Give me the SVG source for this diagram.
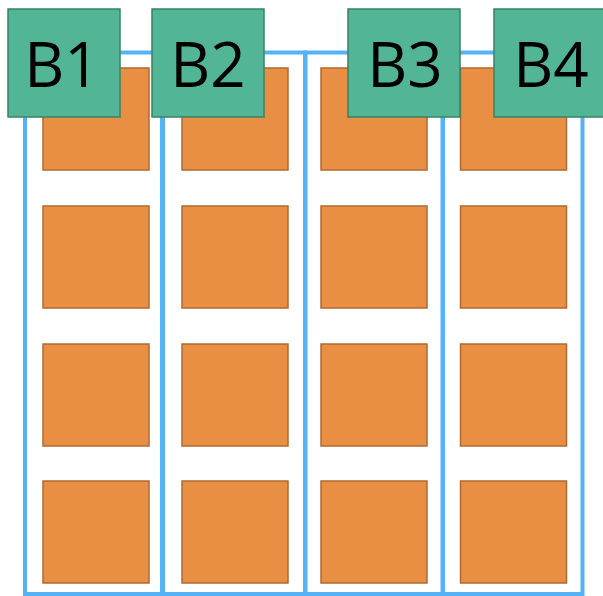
<svg xmlns="http://www.w3.org/2000/svg" width="603" height="596" viewBox="0 0 603 596">
<style>
.col{fill:#ffffff;stroke:#56b2f7;stroke-width:4}
.coli{fill:none;stroke:#cfe7fc;stroke-width:1}
.cell{fill:#e88f43;stroke:#b06a30;stroke-width:1.5}
.blk{fill:#52b696;stroke:#3a8066;stroke-width:1.5}
.lbl{font-family:"Open Sans","Noto Sans",sans-serif;font-size:62px;fill:#000000;text-anchor:middle}
</style>
<g id="columns">
<rect class="col" x="25" y="52.5" width="137" height="541.5"/>
<rect class="col" x="163" y="52.5" width="142" height="541.5"/>
<rect class="col" x="305.5" y="52.5" width="137" height="541.5"/>
<rect class="col" x="443" y="52.5" width="139.5" height="541.5"/>
</g>
<g id="cells">
<rect class="cell" x="43" y="68" width="106" height="102"/>
<rect class="cell" x="43" y="206" width="106" height="102"/>
<rect class="cell" x="43" y="344" width="106" height="102"/>
<rect class="cell" x="43" y="481" width="106" height="102"/>
<rect class="cell" x="182" y="68" width="106" height="102"/>
<rect class="cell" x="182" y="206" width="106" height="102"/>
<rect class="cell" x="182" y="344" width="106" height="102"/>
<rect class="cell" x="182" y="481" width="106" height="102"/>
<rect class="cell" x="321" y="68" width="106" height="102"/>
<rect class="cell" x="321" y="206" width="106" height="102"/>
<rect class="cell" x="321" y="344" width="106" height="102"/>
<rect class="cell" x="321" y="481" width="106" height="102"/>
<rect class="cell" x="460.5" y="68" width="106" height="102"/>
<rect class="cell" x="460.5" y="206" width="106" height="102"/>
<rect class="cell" x="460.5" y="344" width="106" height="102"/>
<rect class="cell" x="460.5" y="481" width="106" height="102"/>
</g>
<g id="B1"><rect class="blk" x="8" y="9" width="112" height="108"/><text class="lbl" x="62" y="87">B1</text></g>
<g id="B2"><rect class="blk" x="152" y="9" width="112" height="108"/><text class="lbl" x="208" y="87">B2</text></g>
<g id="B3"><rect class="blk" x="348" y="9" width="112" height="108"/><text class="lbl" x="405" y="87">B3</text></g>
<g id="B4"><rect class="blk" x="494" y="9" width="110" height="108"/><text class="lbl" x="551" y="87">B4</text></g>
</svg>
